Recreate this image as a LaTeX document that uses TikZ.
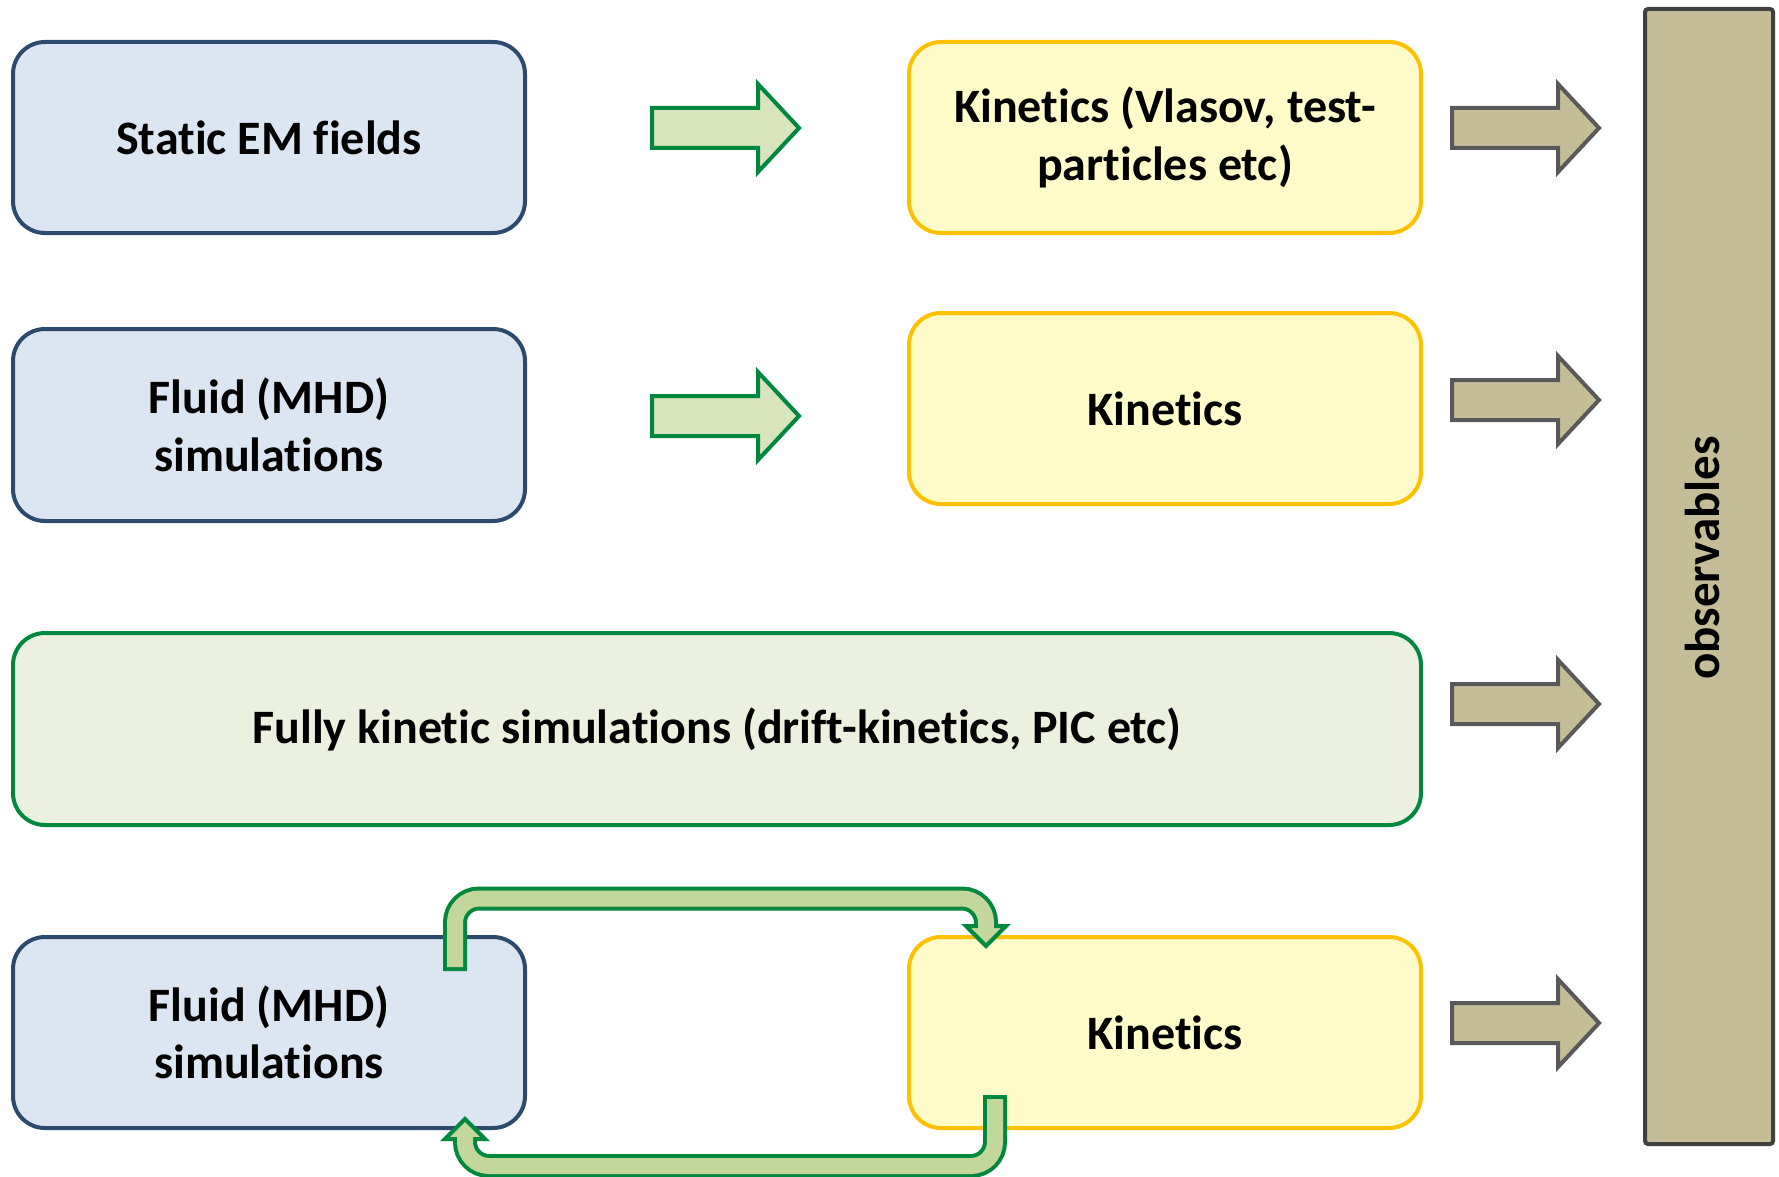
\documentclass[tikz,border=0pt]{standalone}
\usepackage{fontspec}
\setmainfont{Carlito}[Ligatures=NoCommon]
\usetikzlibrary{calc}
\definecolor{bluefill}{HTML}{DCE6F2}
\definecolor{blueline}{HTML}{2C4A6E}
\definecolor{yelfill}{HTML}{FFFCC9}
\definecolor{yelline}{HTML}{FFC000}
\definecolor{grnboxfill}{HTML}{EBF0DF}
\definecolor{grnline}{HTML}{00893E}
\definecolor{grnarrfill}{HTML}{D8E4BD}
\definecolor{loopfill}{HTML}{C3D69B}
\definecolor{tanfill}{HTML}{C4BD97}
\definecolor{grayline}{HTML}{595959}
\definecolor{obsline}{HTML}{404040}
\begin{document}
\begin{tikzpicture}[x=1pt,y=-1pt,
  boxbase/.style={rectangle, rounded corners=32pt, line width=4pt, align=center,
    font=\fontsize{48}{57.5}\selectfont\bfseries, inner sep=0pt},
  bluebox/.style={boxbase, draw=blueline, fill=bluefill, minimum width=512pt, minimum height=191pt},
  yelbox/.style={boxbase, draw=yelline, fill=yelfill, minimum width=512pt, minimum height=191pt},
  grnbox/.style={boxbase, draw=grnline, fill=grnboxfill, minimum width=1408pt, minimum height=192pt},
  obsbar/.style={rectangle, rounded corners=3pt, line width=4pt, draw=obsline, fill=tanfill,
    minimum width=128pt, minimum height=1135pt},
  obstext/.style={font=\fontsize{49}{58}\selectfont\bfseries, rotate=90, inner sep=0pt},
  greenarrow/.style={fill=grnarrfill, draw=grnline, line width=4pt, line join=miter},
  grayarrow/.style={fill=tanfill, draw=grayline, line width=4pt, line join=miter},
  blockarrow/.pic={\path[pic actions] (0,-20) -- (106,-20) -- (106,-44) -- (147,0) -- (106,44) -- (106,20) -- (0,20) -- cycle;},
  loopout/.style={draw=grnline, line width=24pt, rounded corners=24pt},
  loopin/.style={draw=loopfill, line width=16pt, rounded corners=24pt},
  loophead/.style={fill=loopfill, draw=grnline, line width=4pt, line join=miter}
]
\useasboundingbox (0,0) rectangle (1779,1177);

% boxes
\node[bluebox] (static) at (269,137.5) {Static EM fields};
\node[yelbox] (kin1) at (1165,137.5) {Kinetics (Vlasov, test-\\particles etc)};
\node[bluebox, minimum height=192pt] (fluid2) at (269,425) {Fluid (MHD)\\simulations};
\node[yelbox] (kin2) at (1165,408.5) {Kinetics};
\node[grnbox] (full) at (717,729) {Fully kinetic simulations (drift-kinetics, PIC etc)};
\node[bluebox] (fluid3) at (269,1032.5) {Fluid (MHD)\\simulations};
\node[yelbox] (kin3) at (1165,1032.5) {Kinetics};
\node[obsbar] (obs) at (1709,576.5) {};
\node[obstext] (obslabel) at (1702,558) {observables};

% block arrows
\pic[greenarrow] (ga1) at (652,128) {blockarrow};
\pic[greenarrow] (ga2) at (652,416) {blockarrow};
\pic[grayarrow] (ra1) at (1452,128) {blockarrow};
\pic[grayarrow] (ra2) at (1452,400) {blockarrow};
\pic[grayarrow] (ra3) at (1452,704) {blockarrow};
\pic[grayarrow] (ra4) at (1452,1023) {blockarrow};

% loop arrows between fluid3 and kin3
\coordinate (tA) at (455,969);
\coordinate (hA) at (986,926);
\coordinate (tB) at (995,1097);
\coordinate (hB) at (465,1139);

% top: fluid3 -> kin3
\draw[loopout] ($(tA)+(0,2)$) -- (455,898.5) -- (986,898.5) -- (hA);
\draw[loophead] ($(hA)+(-20,0)$) -- ($(hA)+(20,0)$) -- ($(hA)+(0,20)$) -- cycle;
\draw[loopin] ($(tA)+(0,-2)$) -- (455,898.5) -- (986,898.5) -- ($(hA)+(0,3)$);

% bottom: kin3 -> fluid3
\draw[loopout] ($(tB)+(0,-2)$) -- (995,1166) -- (465,1166) -- (hB);
\draw[loophead] ($(hB)+(-20,0)$) -- ($(hB)+(20,0)$) -- ($(hB)+(0,-20)$) -- cycle;
\draw[loopin] ($(tB)+(0,2)$) -- (995,1166) -- (465,1166) -- ($(hB)+(0,-3)$);
\end{tikzpicture}
\end{document}
